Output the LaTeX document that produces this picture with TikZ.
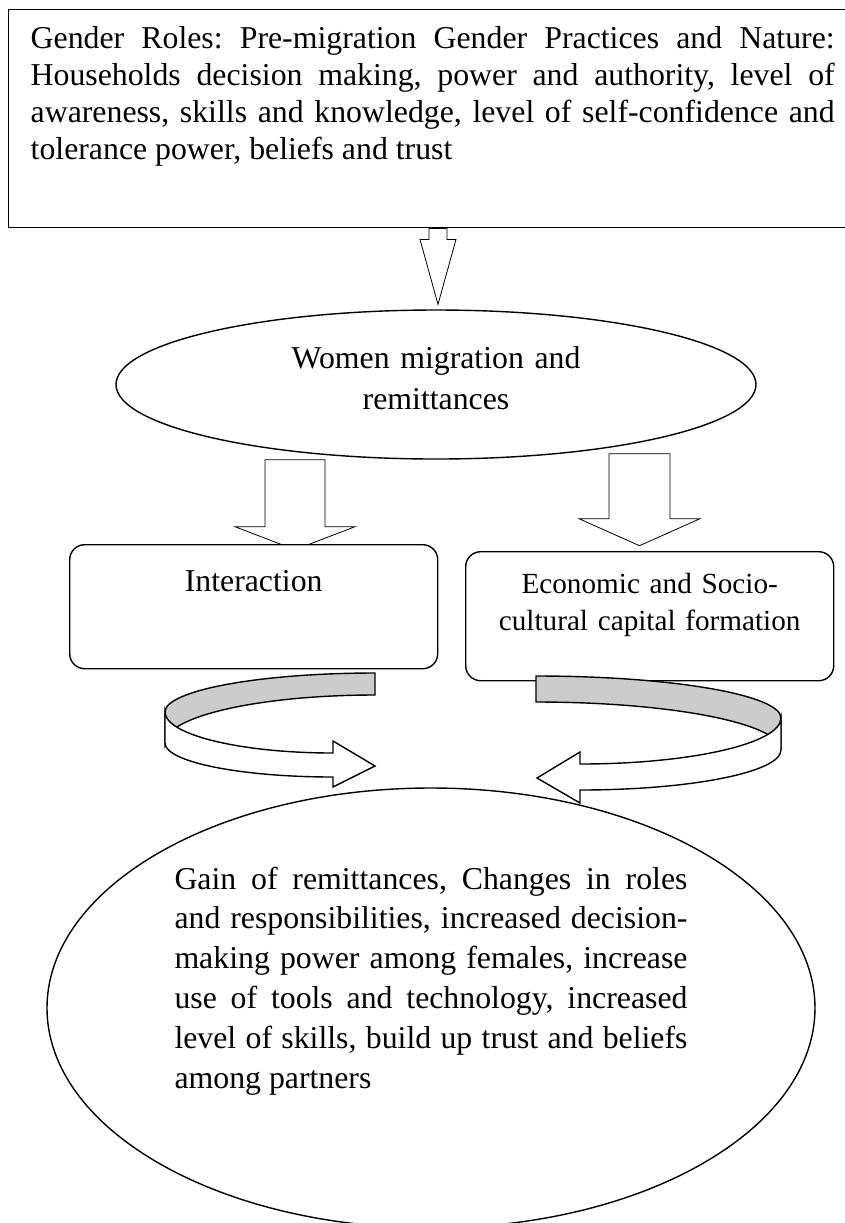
\documentclass[tikz,border=0pt]{standalone}
\usepackage{fontspec}
\setmainfont{Liberation Serif}
\usetikzlibrary{shapes.geometric,calc,backgrounds}
\tolerance=9999
\hbadness=10000
\frenchspacing

\begin{document}
\begin{tikzpicture}[x=0.5pt,y=-0.5pt,line width=0.7pt,
        every node/.style={font=\fontsize{15.9}{18.5}\selectfont},
        rbox/.style={draw,fill=white,rounded corners=7.5pt,inner sep=0pt,anchor=north west},
        oval/.style={draw,ellipse,inner sep=0pt},
        blockarrow/.style={draw,fill=white},
        ribbonback/.style={draw,fill=gray!40},
        ribbonfront/.style={draw,fill=white}]

  \useasboundingbox (0,0) rectangle (845,1223);

  \node[draw,anchor=north west,inner xsep=11pt,inner ysep=0pt,text width=402pt,
        align=justify,text height=19.5pt,text depth=89.5pt] (gender) at (8,9)
       {Gender Roles: Pre-migration Gender Practices and Nature:\linebreak
        Households decision making, power and authority, level of\linebreak
        awareness, skills and knowledge, level of self-confidence and\linebreak
        tolerance power, beliefs and trust};

  \node[oval,minimum width=320pt,minimum height=74.5pt,text width=160pt,align=center,
        text height=10pt,text depth=26.5pt,font=\fontsize{15.9}{20.5}\selectfont]
       (women) at (436,384.5) {Women migration and\\remittances};

  \node[rbox,minimum width=184pt,text height=23.5pt,text depth=38.5pt]
       (interaction) at (69,544) {Interaction};
  \node[rbox,text width=184pt,align=center,text height=21pt,text depth=43.5pt,
        font=\fontsize{14.6}{18.5}\selectfont]
       (capital) at (465,551) {Economic and Socio-\\cultural capital formation};

  \node[oval,minimum width=384pt,minimum height=220pt,text width=256.5pt,align=justify,
        text height=12.5pt,text depth=131.5pt,font=\fontsize{15.9}{19.9}\selectfont]
       (gains) at (431,1008)
       {Gain of remittances, Changes in roles\linebreak
        and responsibilities, increased decision-\linebreak
        making power among females, increase\linebreak
        use of tools and technology, increased\linebreak
        level of skills, build up trust and beliefs\linebreak
        among partners};

  % block arrows, behind the boxes
  \begin{scope}[on background layer]
    \draw[blockarrow] (gender.south -| women.north) ++(-7,0) -- ++(0,11) -- ++(-9,0)
        -- ++(18,65) -- ++(18,-65) -- ++(-9,0) -- ++(0,-11) -- cycle;
    \draw[blockarrow] ($(women.south)+(-171,0)$) -- ++(0,67) -- ++(-30,0)
        -- ++(60,23) -- ++(60,-23) -- ++(-30,0) -- ++(0,-67) -- cycle;
    \draw[blockarrow] ($(women.south)+(173,-6)$) -- ++(0,65) -- ++(-30,0)
        -- ++(60.5,27) -- ++(60.5,-27) -- ++(-30,0) -- ++(0,-65) -- cycle;
  \end{scope}

  % curled arrows into the bottom oval
  \draw[ribbonback] (375,673) .. controls (259,673) and (165,690.5) .. (165,712)
      -- (165,743) .. controls (165,716.5) and (259,695) .. (375,695) -- cycle;
  \draw[ribbonfront] (165,712) .. controls (165,734.6) and (240,753) .. (333,753)
      -- (333,741) -- (375,766) -- (333,787) -- (333,777)
      .. controls (240,777) and (165,761.8) .. (165,743) -- cycle;

  \draw[ribbonback] (536,676) .. controls (671,676) and (781,694.8) .. (781,718)
      -- (781,750) .. controls (781,723.5) and (671,702) .. (536,702) -- cycle;
  \draw[ribbonfront] (781,718) .. controls (781,743.4) and (691,764) .. (580,764)
      -- (580,752) -- (537,778) -- (580,803) -- (580,790)
      .. controls (691,790) and (781,772.1) .. (781,750) -- cycle;

\end{tikzpicture}
\end{document}
